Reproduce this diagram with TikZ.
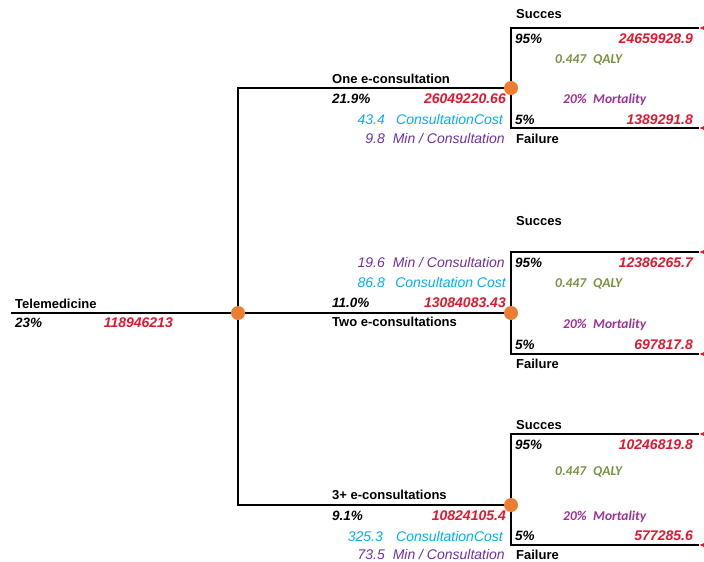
\documentclass[tikz,border=0pt]{standalone}
\usepackage{fontspec}
\setmainfont{Liberation Sans}
\newfontfamily\calfont{Carlito}
\usetikzlibrary{shapes.geometric,backgrounds}
\definecolor{valred}{HTML}{E0182D}
\definecolor{costblue}{HTML}{00B0F0}
\definecolor{minpurple}{HTML}{7030A0}
\definecolor{qalygreen}{HTML}{76923C}
\definecolor{mortpink}{HTML}{9E2F98}
\definecolor{chanceorange}{HTML}{ED7D31}
\begin{document}
\begin{tikzpicture}[x=1pt,y=-1pt,
  txt/.style={inner sep=0pt,text height=9.5pt,text depth=0pt},
  lbl/.style={txt,font=\bfseries\fontsize{13}{15}\selectfont,anchor=west},
  pct/.style={txt,font=\bfseries\itshape\fontsize{13.5}{15}\selectfont,anchor=west},
  val/.style={txt,font=\bfseries\itshape\fontsize{14}{16}\selectfont,text=valred,anchor=east},
  cost/.style={txt,font=\itshape\fontsize{14}{16}\selectfont,text=costblue},
  mins/.style={txt,font=\itshape\fontsize{14}{16}\selectfont,text=minpurple},
  qaly/.style={txt,font=\calfont\bfseries\itshape\fontsize{13.5}{15}\selectfont,text=qalygreen,anchor=west},
  mort/.style={txt,font=\calfont\bfseries\itshape\fontsize{13.5}{15}\selectfont,text=mortpink,anchor=west},
  branch/.style={line width=2pt,black},
  chance/.style={circle,fill=chanceorange,inner sep=0pt,minimum size=14pt},
  terminal/.style={isosceles triangle,shape border rotate=180,fill=valred,inner sep=0pt,
    minimum height=12pt,minimum width=10pt,isosceles triangle stretches,anchor=apex}
]
\useasboundingbox (0,0) rectangle (704,562);

% chance nodes
\node[chance] (c0) at (238,313) {};
\node[chance] (c1) at (511,88) {};
\node[chance] (c2) at (511,313) {};
\node[chance] (c3) at (511,505) {};
\coordinate (root) at (11,313);

% terminal nodes
\node[terminal] (t1s) at (699,28) {};
\node[terminal] (t1f) at (699,128) {};
\node[terminal] (t2s) at (699,252) {};
\node[terminal] (t2f) at (699,354) {};
\node[terminal] (t3s) at (699,434) {};
\node[terminal] (t3f) at (699,545) {};

\begin{pgfonlayer}{background}
\draw[branch] (root) -- (c0.center);
\draw[branch] (c0.center) |- (c1.center);
\draw[branch] (c0.center) -- (c2.center);
\draw[branch] (c0.center) |- (c3.center);
\draw[branch] (c1.center) |- (t1s.apex);
\draw[branch] (c1.center) |- (t1f.apex);
\draw[branch] (c2.center) |- (t2s.apex);
\draw[branch] (c2.center) |- (t2f.apex);
\draw[branch] (c3.center) |- (t3s.apex);
\draw[branch] (c3.center) |- (t3f.apex);
\end{pgfonlayer}

% root labels
\node[lbl] (rootname) at (15,304) {Telemedicine};
\node[pct] (rootpct) at (15,323) {23\%};
\node[val] (rootval) at (173,323) {118946213};

% branch 1
\node[lbl] (b1name) at (332,79) {One e-consultation};
\node[pct] (b1pct) at (332,99) {21.9\%};
\node[val] (b1val) at (506,99) {26049220.66};
\node[cost,anchor=east] (b1cn) at (385,120) {43.4};
\node[cost,anchor=east] (b1cl) at (503,120) {ConsultationCost};
\node[mins,anchor=east] (b1mn) at (385,139) {9.8};
\node[mins,anchor=east] (b1ml) at (505,139) {Min / Consultation};

% outcome 1
\node[lbl] (o1s) at (516,14) {Succes};
\node[pct] (o1sp) at (515,39) {95\%};
\node[val] (o1sv) at (693,39) {24659928.9};
\node[qaly] (o1qn) at (555,59) {0.447};
\node[qaly] (o1ql) at (593,59) {QALY};
\node[mort] (o1mn) at (563,99) {20\%};
\node[mort] (o1ml) at (593,99) {Mortality};
\node[pct] (o1fp) at (515,120) {5\%};
\node[val] (o1fv) at (693,120) {1389291.8};
\node[lbl] (o1f) at (516,139) {Failure};

% branch 2
\node[mins,anchor=east] (b2mn) at (385,263) {19.6};
\node[mins,anchor=east] (b2ml) at (505,263) {Min / Consultation};
\node[cost,anchor=east] (b2cn) at (385,283) {86.8};
\node[cost,anchor=east] (b2cl) at (506,283) {Consultation Cost};
\node[pct] (b2pct) at (332,303) {11.0\%};
\node[val] (b2val) at (506,303) {13084083.43};
\node[lbl] (b2name) at (332,322) {Two e-consultations};

% outcome 2
\node[lbl] (o2s) at (516,221) {Succes};
\node[pct] (o2sp) at (515,263) {95\%};
\node[val] (o2sv) at (693,263) {12386265.7};
\node[qaly] (o2qn) at (555,283) {0.447};
\node[qaly] (o2ql) at (593,283) {QALY};
\node[mort] (o2mn) at (563,324) {20\%};
\node[mort] (o2ml) at (593,324) {Mortality};
\node[pct] (o2fp) at (515,345) {5\%};
\node[val] (o2fv) at (693,345) {697817.8};
\node[lbl] (o2f) at (516,364) {Failure};

% branch 3
\node[lbl] (b3name) at (332,495) {3+ e-consultations};
\node[pct] (b3pct) at (332,516) {9.1\%};
\node[val] (b3val) at (506,516) {10824105.4};
\node[cost,anchor=east] (b3cn) at (383,537) {325.3};
\node[cost,anchor=east] (b3cl) at (503,537) {ConsultationCost};
\node[mins,anchor=east] (b3mn) at (385,554.5) {73.5};
\node[mins,anchor=east] (b3ml) at (505,554.5) {Min / Consultation};

% outcome 3
\node[lbl] (o3s) at (516,425) {Succes};
\node[pct] (o3sp) at (515,445) {95\%};
\node[val] (o3sv) at (693,445) {10246819.8};
\node[qaly] (o3qn) at (555,471) {0.447};
\node[qaly] (o3ql) at (593,471) {QALY};
\node[mort] (o3mn) at (563,516) {20\%};
\node[mort] (o3ml) at (593,516) {Mortality};
\node[pct] (o3fp) at (515,536) {5\%};
\node[val] (o3fv) at (693,536) {577285.6};
\node[lbl] (o3f) at (516,554.5) {Failure};
\end{tikzpicture}
\end{document}
